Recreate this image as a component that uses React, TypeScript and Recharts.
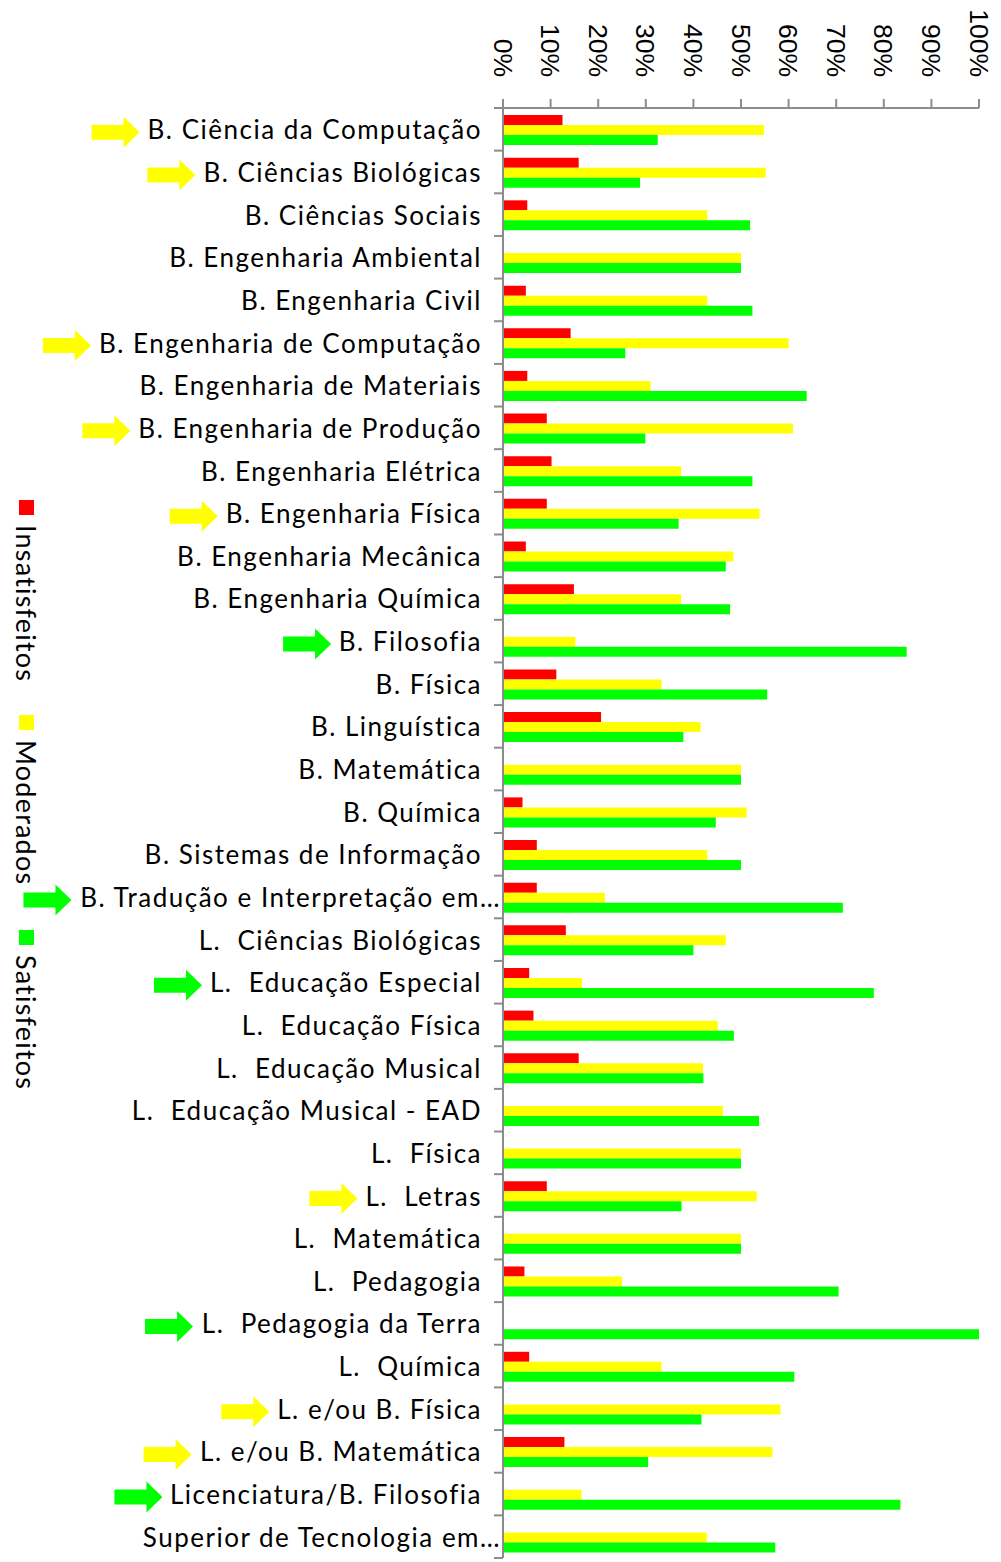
import React from 'react';
import { Bar, BarChart, Legend, XAxis, YAxis } from 'recharts';

const categories = [
  'B. Ciência da Computação',
  'B. Ciências Biológicas',
  'B. Ciências Sociais',
  'B. Engenharia Ambiental',
  'B. Engenharia Civil',
  'B. Engenharia de Computação',
  'B. Engenharia de Materiais',
  'B. Engenharia de Produção',
  'B. Engenharia Elétrica',
  'B. Engenharia Física',
  'B. Engenharia Mecânica',
  'B. Engenharia Química',
  'B. Filosofia',
  'B. Física',
  'B. Linguística',
  'B. Matemática',
  'B. Química',
  'B. Sistemas de Informação',
  'B. Tradução e Interpretação em…',
  'L.  Ciências Biológicas',
  'L.  Educação Especial',
  'L.  Educação Física',
  'L.  Educação Musical',
  'L.  Educação Musical - EAD',
  'L.  Física',
  'L.  Letras',
  'L.  Matemática',
  'L.  Pedagogia',
  'L.  Pedagogia da Terra',
  'L.  Química',
  'L. e/ou B. Física',
  'L. e/ou B. Matemática',
  'Licenciatura/B. Filosofia',
  'Superior de Tecnologia em…',
];

const insatisfeitos = [
  12.5, 15.9, 5.1, 0, 4.8, 14.2, 5.1, 9.2, 10.2, 9.2, 4.8, 14.9, 0, 11.2, 20.6, 0, 4.1,
  7.1, 7.1, 13.2, 5.5, 6.4, 15.9, 0, 0, 9.2, 0, 4.5, 0, 5.5, 0, 12.9, 0, 0,
];
const moderados = [
  54.8, 55.2, 42.9, 50, 42.9, 60.0, 31.0, 60.9, 37.4, 53.9, 48.4, 37.4, 15.2, 33.3, 41.5, 50,
  51.2, 42.9, 21.4, 46.8, 16.6, 45.1, 42.0, 46.2, 50, 53.3, 50, 25.0, 0, 33.3, 58.3, 56.6,
  16.5, 42.8,
];
const satisfeitos = [
  32.5, 28.8, 51.9, 50, 52.4, 25.7, 63.8, 29.9, 52.4, 36.9, 46.8, 47.7, 84.8, 55.5, 37.9, 50,
  44.7, 50.0, 71.4, 40.0, 77.9, 48.5, 42.1, 53.8, 50, 37.5, 50, 70.5, 100, 61.2, 41.7, 30.5,
  83.5, 57.2,
];

// arrow next to the label: y = yellow, g = green
const highlight = [
  'y', 'y', '', '', '', 'y', '', 'y', '', 'y', '', '', 'g', '', '', '', '', '', 'g', '',
  'g', '', '', '', '', 'y', '', '', 'g', '', 'y', 'y', 'g', '',
];

const xTicks = [0, 10, 20, 30, 40, 50, 60, 70, 80, 90, 100];

const data = categories.map((name, i) => ({
  name,
  Insatisfeitos: insatisfeitos[i],
  Moderados: moderados[i],
  Satisfeitos: satisfeitos[i],
}));

const W = 1001;
const H = 1562;
const PLOT_LEFT = 503;
const PLOT_TOP = 108;
const PLOT_BOTTOM = 1558;
const BAND = (PLOT_BOTTOM - PLOT_TOP) / categories.length;
const AXIS = '#8c8c8c';
const LABEL_FONT_SIZE = 26;
const LABEL_SPACING = 1.5;
const LABEL_FAMILY = 'Lato, sans-serif';
const ARROW_COLORS: Record<string, string> = { y: '#FFFF00', g: '#00FF00' };

const canvas = document.createElement('canvas');
const ctx = canvas.getContext('2d');
function textWidth(s: string) {
  const extra = s.length * LABEL_SPACING;
  if (!ctx) return s.length * LABEL_FONT_SIZE * 0.5 + extra;
  ctx.font = `${LABEL_FONT_SIZE}px ${LABEL_FAMILY}`;
  return ctx.measureText(s).width + extra;
}

const CategoryTick = (props: any) => {
  const { y, payload } = props;
  const index = payload.index ?? props.index;
  const label: string = payload.value;
  const endX = label.endsWith('…') ? PLOT_LEFT - 2 : PLOT_LEFT - 21;
  const mark = highlight[index];
  const top = y - BAND / 2;
  let arrow = null;
  if (mark) {
    const tip = endX - textWidth(label) - 8;
    const cy = y + 3;
    const pts = [
      [tip - 48, cy - 7.5],
      [tip - 16, cy - 7.5],
      [tip - 16, cy - 15.5],
      [tip, cy],
      [tip - 16, cy + 15.5],
      [tip - 16, cy + 7.5],
      [tip - 48, cy + 7.5],
    ]
      .map((p) => p.join(','))
      .join(' ');
    arrow = <polygon points={pts} fill={ARROW_COLORS[mark]} />;
  }
  return (
    <g>
      <line x1={PLOT_LEFT - 9} x2={PLOT_LEFT} y1={top} y2={top} stroke={AXIS} strokeWidth={2} />
      {index === categories.length - 1 && (
        <line
          x1={PLOT_LEFT - 9}
          x2={PLOT_LEFT}
          y1={top + BAND}
          y2={top + BAND}
          stroke={AXIS}
          strokeWidth={2}
        />
      )}
      {arrow}
      <text
        x={endX}
        y={y}
        dy={10}
        textAnchor="end"
        fill="#000"
        fontSize={LABEL_FONT_SIZE}
        fontFamily={LABEL_FAMILY}
        letterSpacing={LABEL_SPACING}
        style={{ whiteSpace: 'pre' }}
      >
        {label}
      </text>
    </g>
  );
};

const PercentTick = (props: any) => {
  const { x, payload } = props;
  const ty = 77;
  return (
    <text
      x={x}
      y={ty}
      dy={9.5}
      textAnchor="end"
      transform={`rotate(90, ${x}, ${ty})`}
      fill="#000"
      fontSize={26.5}
      fontFamily="'Liberation Sans', Arial, sans-serif"
    >
      {`${payload.value}%`}
    </text>
  );
};

const LegendContent = (props: any) => {
  const { payload } = props;
  return (
    <div style={{ display: 'flex', flexDirection: 'column' }}>
      {(payload || []).map((entry: any) => (
        <div
          key={entry.value}
          style={{ height: 215, display: 'flex', flexDirection: 'column', alignItems: 'center' }}
        >
          <div style={{ width: 15, height: 15, background: entry.color, marginBottom: 10 }} />
          <div
            style={{
              writingMode: 'vertical-rl',
              fontFamily: LABEL_FAMILY,
              fontSize: 27,
              lineHeight: '27px',
              letterSpacing: 1.2,
              color: '#000',
            }}
          >
            {entry.value}
          </div>
        </div>
      ))}
    </div>
  );
};

export default function App() {
  return (
    <div style={{ position: 'absolute', left: 0, top: 0, width: W, height: H, background: '#fff' }}>
      <BarChart
        width={W}
        height={H}
        data={data}
        layout="vertical"
        margin={{ top: 0, right: W - 979, bottom: H - PLOT_BOTTOM, left: 0 }}
        barCategoryGap="16.5%"
        barGap={0}
      >
        <XAxis
          type="number"
          orientation="top"
          domain={[0, 100]}
          ticks={xTicks}
          height={PLOT_TOP}
          interval={0}
          tick={<PercentTick />}
          tickSize={9}
          axisLine={{ stroke: AXIS, strokeWidth: 2 }}
          tickLine={{ stroke: AXIS, strokeWidth: 2 }}
        />
        <YAxis
          type="category"
          dataKey="name"
          width={PLOT_LEFT}
          interval={0}
          tick={<CategoryTick />}
          tickLine={false}
          axisLine={{ stroke: AXIS, strokeWidth: 2 }}
        />
        <Legend
          layout="vertical"
          align="center"
          verticalAlign="middle"
          content={<LegendContent />}
          wrapperStyle={{ position: 'absolute', left: 12, top: 500, width: 28 }}
        />
        <Bar dataKey="Insatisfeitos" fill="#FF0000" isAnimationActive={false} />
        <Bar dataKey="Moderados" fill="#FFFF00" isAnimationActive={false} />
        <Bar dataKey="Satisfeitos" fill="#00FF00" isAnimationActive={false} />
      </BarChart>
    </div>
  );
}
